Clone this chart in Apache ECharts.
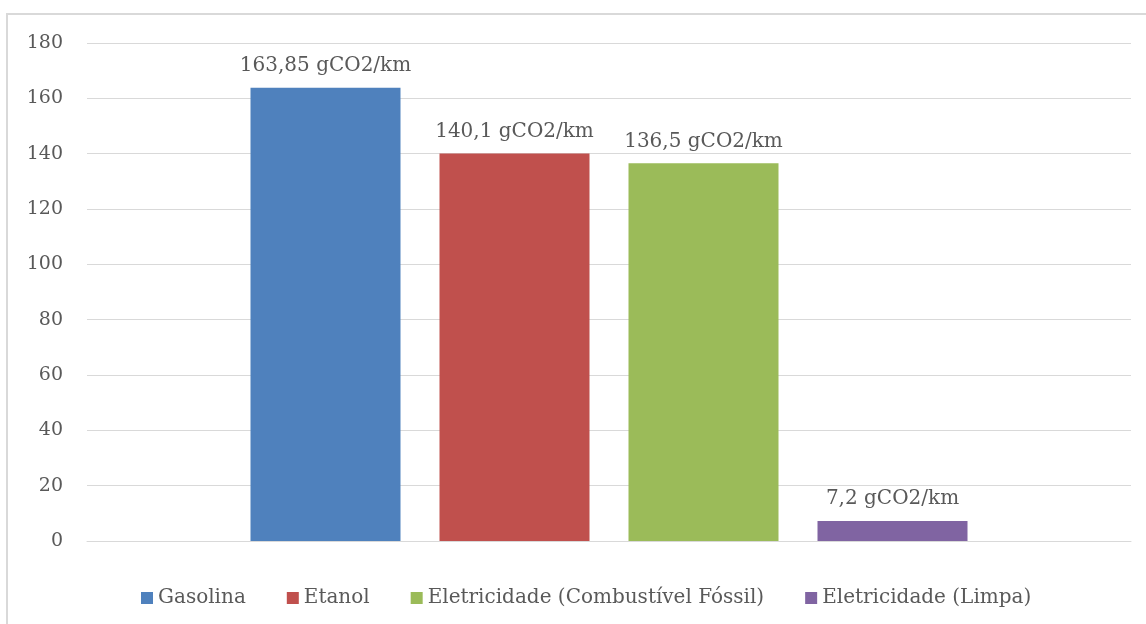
<!DOCTYPE html>
<html>
<head>
<meta charset="utf-8">
<script src="https://cdn.jsdelivr.net/npm/echarts@6/dist/echarts.min.js"></script>
<style>
  html, body { margin: 0; padding: 0; background: #fff; }
  #main { width: 1146px; height: 624px; }
</style>
</head>
<body>
<div id="main"></div>
<script>
// dados do grafico
var categorias = [''];
var nomes = ['Gasolina', 'Etanol', 'Eletricidade (Combustível Fóssil)', 'Eletricidade (Limpa)'];
var valores = [163.85, 140.1, 136.5, 7.2];
var rotulos = ['163,85 gCO2/km', '140,1 gCO2/km', '136,5 gCO2/km', '7,2 gCO2/km'];
var cores = ['#4F81BD', '#C0504D', '#9BBB59', '#8064A2'];

var fonte = 'DejaVu Serif';
var corTexto = '#595959';

var series = [];
for (var i = 0; i < nomes.length; i++) {
	series.push({
		name: nomes[i],
		type: 'bar',
		barWidth: 150,
		barGap: '26%',
		itemStyle: { color: cores[i] },
		label: {
			show: true,
			position: 'top',
			distance: 12,
			color: corTexto,
			fontFamily: fonte,
			fontSize: 20,
			formatter: (function (t) { return function () { return t; }; })(rotulos[i])
		},
		data: [valores[i]]
	});
}

var myChart = echarts.init(document.getElementById('main'));
var option = {
	animation: false,
	textStyle: { fontFamily: fonte },
	graphic: [{
		type: 'rect',
		shape: { x: 7, y: 14, width: 1160, height: 640 },
		style: { fill: null, stroke: '#d9d9d9', lineWidth: 2 },
		silent: true
	}],
	grid: { left: 87, right: 15, top: 43, bottom: 83 },
	legend: {
		data: nomes,
		left: 136,
		top: 583,
		icon: 'rect',
		itemWidth: 12,
		itemHeight: 12,
		itemGap: 41,
		textStyle: { color: corTexto, fontFamily: fonte, fontSize: 20 }
	},
	xAxis: {
		type: 'category',
		data: categorias,
		axisTick: { show: false },
		axisLabel: { show: false },
		axisLine: { lineStyle: { color: '#d9d9d9', width: 1 } }
	},
	yAxis: {
		type: 'value',
		min: 0,
		max: 180,
		interval: 20,
		axisLine: { show: false },
		axisTick: { show: false },
		axisLabel: { color: corTexto, fontFamily: fonte, fontSize: 19, margin: 24 },
		splitLine: { lineStyle: { color: '#d9d9d9', width: 1 } }
	},
	series: series
};
myChart.setOption(option);
</script>
</body>
</html>
